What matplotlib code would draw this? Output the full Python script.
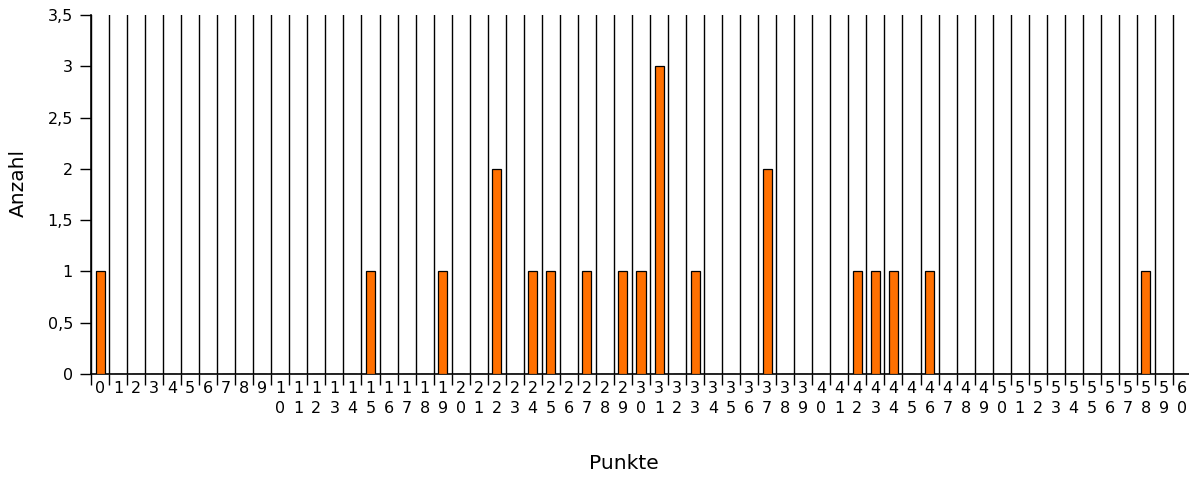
import numpy as np
import matplotlib.pyplot as plt
from matplotlib.ticker import FuncFormatter

plt.rcParams['font.family'] = ['DejaVu Sans']

# Punkte 0..60 und wie oft sie vorkommen
punkte = list(range(61))
anzahl_punkte = [0, 15, 19, 22, 24, 25, 27, 29, 30, 31, 33, 37, 42, 43, 44, 46, 58]
anzahl_werte = [1, 1, 1, 2, 1, 1, 1, 1, 1, 3, 1, 2, 1, 1, 1, 1, 1]
y_ticks = [0, 0.5, 1, 1.5, 2, 2.5, 3, 3.5]

anzahl = np.zeros(len(punkte))
for p, a in zip(anzahl_punkte, anzahl_werte):
    anzahl[p] = a

fig = plt.figure(figsize=(11.89, 4.79), dpi=100)
ax = fig.add_axes([91/1189, 105/479, 1100/1189, 359/479])

ax.bar(punkte, anzahl, width=0.5, color="#FF7000", edgecolor="black", linewidth=0.9, zorder=3)

ax.set_xlim(-0.5, 60.5)
ax.set_ylim(0, 3.5)

# Beschriftung der x-Achse: Ziffern untereinander
ax.set_xticks(punkte)
ax.set_xticklabels(["\n".join(str(p)) for p in punkte], fontsize=11.5, linespacing=1.45, va="top")
ax.set_xticks(np.arange(-0.5, 61, 1), minor=True)
ax.tick_params(axis="x", which="major", length=0, pad=5)
ax.tick_params(axis="x", which="minor", length=8, width=1.0, direction="out")
ax.grid(True, axis="x", which="minor", color="black", linewidth=1.0, zorder=1)
ax.grid(False, axis="x", which="major")

ax.set_yticks(y_ticks)
ax.yaxis.set_major_formatter(FuncFormatter(lambda v, pos: ("%g" % v).replace(".", ",")))
ax.tick_params(axis="y", length=8, width=1.0, labelsize=11.5, pad=5)

ax.spines["top"].set_visible(False)
ax.spines["right"].set_visible(False)
ax.spines["left"].set_linewidth(1.2)
ax.spines["bottom"].set_linewidth(1.2)

ax.set_xlabel("Punkte", fontsize=14.5)
ax.set_ylabel("Anzahl", fontsize=14.5)
ax.xaxis.set_label_coords(0.484, -0.222)
ax.yaxis.set_label_coords(-0.057, 0.532)

fig.savefig("out.png", dpi=100)
